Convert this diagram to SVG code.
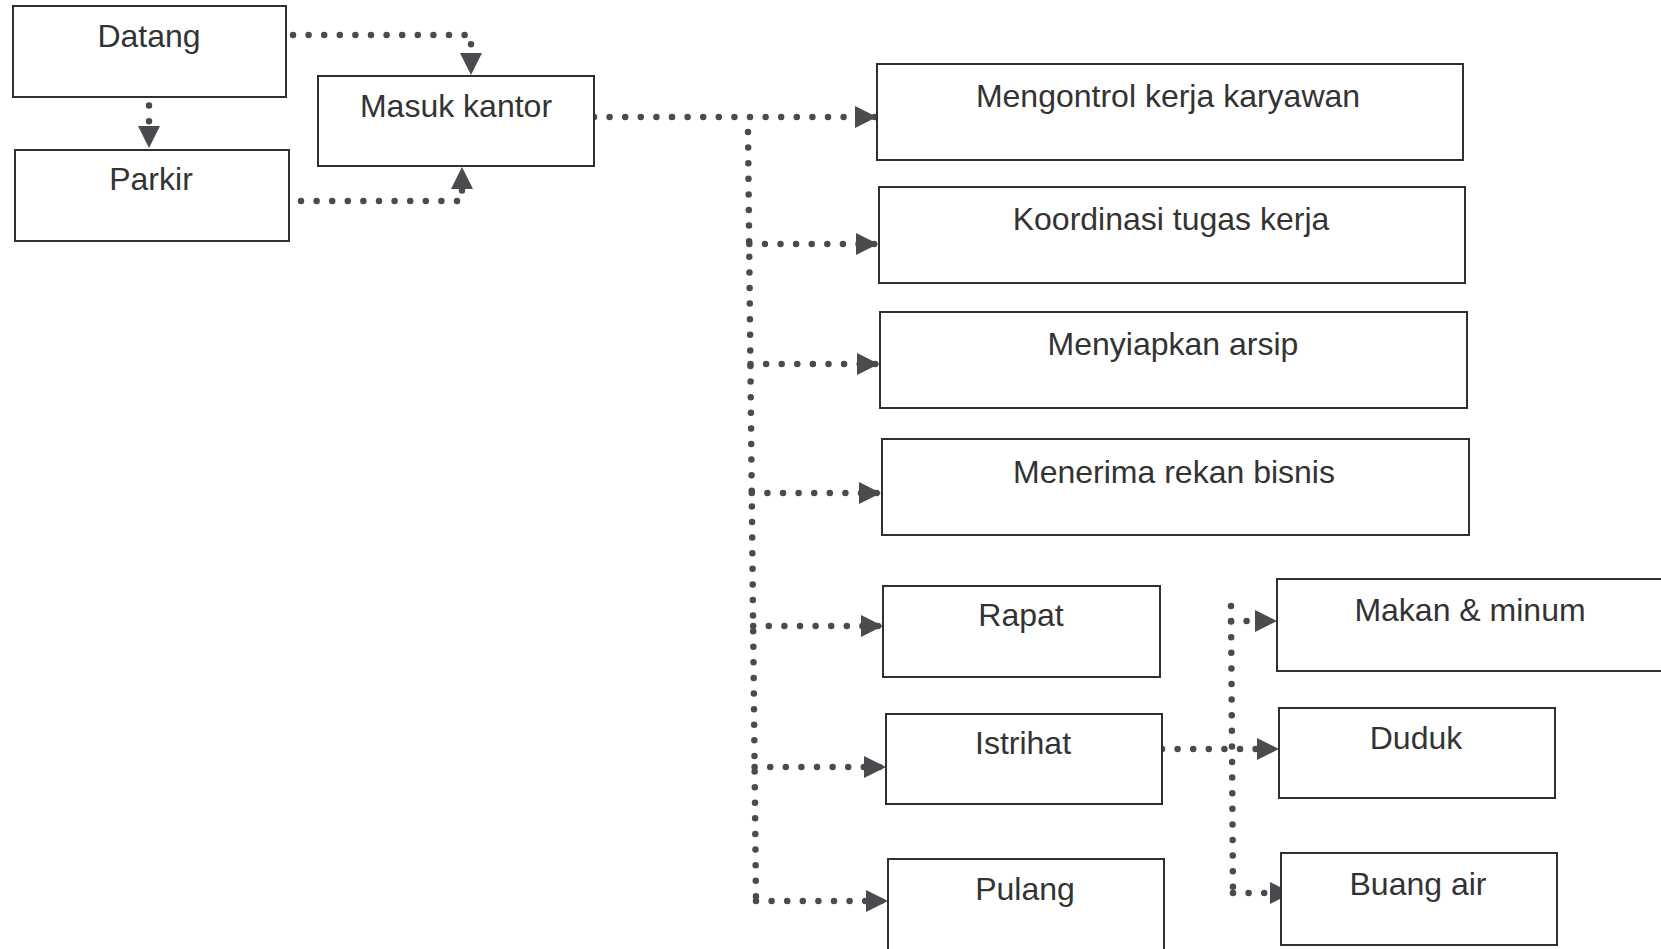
<svg xmlns="http://www.w3.org/2000/svg" width="1661" height="949" viewBox="0 0 1661 949">
  <style>
    .box rect { fill: #ffffff; stroke: #303030; stroke-width: 2; }
    .box text { font-family: "Liberation Sans", Arial, sans-serif; font-size: 32px; fill: #333333; text-anchor: middle; }
    .dot { fill: none; stroke: #4a4a4f; stroke-width: 6.5; stroke-linecap: round; stroke-dasharray: 0 15.6; }
  </style>
  <defs>
    <marker id="head" markerUnits="userSpaceOnUse" markerWidth="24" markerHeight="24" refX="22" refY="11" orient="auto">
      <path d="M0 0 L22 11 L0 22 Z" fill="#4a4a4f"/>
    </marker>
  </defs>
  <rect width="1661" height="949" fill="#ffffff"/>

  <!-- connectors -->
  <g id="connectors">
    <path class="dot" d="M149 90 L149 148" marker-end="url(#head)"/>
    <path class="dot" d="M293 35 L471 35 L471 75" marker-end="url(#head)"/>
    <path class="dot" d="M301 201 L462 201 L462 167" marker-end="url(#head)"/>
    <path class="dot" d="M594 117 L877 117" marker-end="url(#head)"/>
    <path class="dot" d="M748 132 L756 901"/>
    <path class="dot" d="M749.3 244 L878 244" marker-end="url(#head)"/>
    <path class="dot" d="M750.5 364 L879 364" marker-end="url(#head)"/>
    <path class="dot" d="M751.8 493 L881 493" marker-end="url(#head)"/>
    <path class="dot" d="M753.2 626 L883 626" marker-end="url(#head)"/>
    <path class="dot" d="M754.6 767 L886 767" marker-end="url(#head)"/>
    <path class="dot" d="M756 901 L888 901" marker-end="url(#head)"/>
    <path class="dot" d="M1162 749 L1279 749" marker-end="url(#head)"/>
    <path class="dot" d="M1231 606 L1233 893"/>
    <path class="dot" d="M1231 621 L1277 621" marker-end="url(#head)"/>
    <path class="dot" d="M1233 893 L1292 893" marker-end="url(#head)"/>
  </g>

  <!-- left flow -->
  <g id="datang" class="box">
    <rect x="13" y="6" width="273" height="91"/>
    <text x="149" y="47">Datang</text>
  </g>
  <g id="parkir" class="box">
    <rect x="15" y="150" width="274" height="91"/>
    <text x="151" y="190">Parkir</text>
  </g>
  <g id="masuk-kantor" class="box">
    <rect x="318" y="76" width="276" height="90"/>
    <text x="456" y="117">Masuk kantor</text>
  </g>

  <!-- activities -->
  <g id="mengontrol" class="box">
    <rect x="877" y="64" width="586" height="96"/>
    <text x="1168" y="107">Mengontrol kerja karyawan</text>
  </g>
  <g id="koordinasi" class="box">
    <rect x="879" y="187" width="586" height="96"/>
    <text x="1171" y="230">Koordinasi tugas kerja</text>
  </g>
  <g id="menyiapkan" class="box">
    <rect x="880" y="312" width="587" height="96"/>
    <text x="1173" y="355">Menyiapkan arsip</text>
  </g>
  <g id="menerima" class="box">
    <rect x="882" y="439" width="587" height="96"/>
    <text x="1174" y="483">Menerima rekan bisnis</text>
  </g>
  <g id="rapat" class="box">
    <rect x="883" y="586" width="277" height="91"/>
    <text x="1021" y="626">Rapat</text>
  </g>
  <g id="istrihat" class="box">
    <rect x="886" y="714" width="276" height="90"/>
    <text x="1023" y="754">Istrihat</text>
  </g>
  <g id="pulang" class="box">
    <rect x="888" y="859" width="276" height="95"/>
    <text x="1025" y="900">Pulang</text>
  </g>

  <!-- break activities -->
  <g id="makan-minum" class="box">
    <rect x="1277" y="579" width="400" height="92"/>
    <text x="1470" y="621">Makan &amp; minum</text>
  </g>
  <g id="duduk" class="box">
    <rect x="1279" y="708" width="276" height="90"/>
    <text x="1416" y="749">Duduk</text>
  </g>
  <g id="buang-air" class="box">
    <rect x="1281" y="853" width="276" height="92"/>
    <text x="1418" y="895">Buang air</text>
  </g>
</svg>
